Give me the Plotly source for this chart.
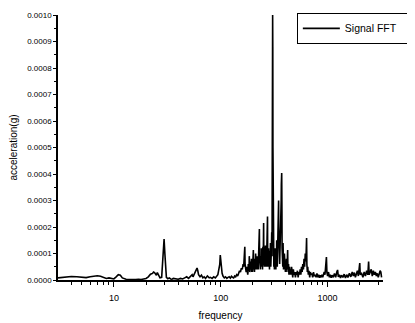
import plotly.graph_objects as go

# ---- Data (frequency in Hz, amplitude in g) ----
low_freq_hz = [
    3.0, 3.5, 4.0, 4.5, 5.0, 5.5, 6.0, 6.5, 7.0, 7.5, 8.0, 8.5, 9.0, 9.5, 10.0,
    10.5, 11.0, 11.5, 12.0, 13.0, 14.0, 15.0, 16.0, 17.0, 18.0, 19.0, 20.0, 21.0,
    22.0, 23.0, 23.5, 24.0, 25.0, 25.5, 26.0, 27.0, 28.0, 28.5, 29.0, 29.5, 30.0,
    30.5, 31.0, 32.0, 33.0, 34.0, 35.0, 36.0, 38.0, 40.0,
    42, 44, 46, 48, 50, 52, 54, 55, 57, 58,
    60, 61, 62, 64, 66, 68, 70, 72, 75, 78,
    80, 83, 86, 89, 92, 94, 96, 98, 99, 100,
    101, 103, 105, 108, 111, 114, 117, 120, 123, 126,
    129, 132, 135, 138, 141, 144, 147, 150, 153, 156,
    159, 162, 164, 166, 168, 169, 171, 173, 175, 177, 179,
]
low_accel_g = [
    0.000008, 0.000012, 0.000013, 0.000012, 0.000010, 0.000009, 0.000012,
    0.000015, 0.000016, 0.000014, 0.000009, 0.000006, 0.000008, 0.000005,
    0.000004, 0.000012, 0.000020, 0.000018, 0.000008, 0.000003, 0.000002,
    0.000003, 0.000002, 0.000003, 0.000002, 0.000004, 0.000006, 0.000012,
    0.000022, 0.000025, 0.000030, 0.000028, 0.000018, 0.000028, 0.000020,
    0.000008, 0.000010, 0.000060, 0.000135, 0.000155, 0.000100, 0.000040,
    0.000010, 0.000005, 0.000008, 0.000004, 0.000003, 0.000006, 0.000004,
    0.000003,
    0.000006, 0.000004, 0.000008, 0.000012, 0.000006, 0.000015, 0.000020, 0.000012, 0.000025, 0.000030,
    0.000045, 0.000035, 0.000020, 0.000012, 0.000018, 0.000008, 0.000012, 0.000006, 0.000015, 0.000008,
    0.000010, 0.000006, 0.000012, 0.000008, 0.000015, 0.000020, 0.000040, 0.000060, 0.000094, 0.000070,
    0.000040, 0.000025, 0.000015, 0.000008, 0.000012, 0.000006, 0.000010, 0.000012, 0.000007, 0.000014,
    0.000010, 0.000008, 0.000015, 0.000012, 0.000020, 0.000015, 0.000025, 0.000035, 0.000030, 0.000045,
    0.000040, 0.000060, 0.000050, 0.000090, 0.000125, 0.000060, 0.000040, 0.000030, 0.000050, 0.000035, 0.000020,
]

cluster_freq_hz = [
    180, 181, 182, 183, 184, 185, 186, 187, 188, 189,
    190, 191, 192, 193, 194, 195, 196, 197, 198, 199,
    200, 201, 202, 203, 204, 205, 206, 207, 208, 209,
    210, 211, 212, 213, 214, 215, 216, 217, 218, 219,
    220, 221, 222, 223, 224, 225, 226, 227, 228, 229,
    230, 231, 232, 233, 234, 235, 236, 237, 238, 239,
    240, 241, 242, 243, 244, 245, 246, 247, 248, 249,
    250, 251, 252, 253, 254, 255, 256, 257, 258, 259,
    260, 261, 262, 263, 264, 265, 266, 267, 268, 269,
    270, 271, 272, 273, 274, 275, 276, 277, 278, 279,
    280, 281, 282, 283, 284, 285, 286, 287, 288, 289,
    290, 291, 292, 293, 294, 295, 296, 297, 298, 299,
    300, 301, 302, 303, 304, 305, 306, 307, 308, 309,
    310, 311, 312, 313, 314, 315, 316, 317, 318, 319,
    320, 321, 322, 323, 324, 325, 326, 327, 328, 329,
    330, 331, 332, 333, 334, 335, 336, 337, 338, 339,
    340, 341, 342, 343, 344, 345, 346, 347, 348, 349,
    350, 351, 352, 353, 354, 355, 356, 357, 358, 359,
    360, 361, 362, 363, 364, 365, 366, 367, 368, 369,
    370, 371, 372, 373, 374, 375, 376, 377, 378, 379,
    381, 383, 385, 387, 388, 389, 391, 394, 397, 400,
    403, 406, 409, 412, 415, 418, 421, 423, 425, 428,
    431, 435, 440, 445, 450,
]
cluster_accel_g = [
    0.000030, 0.000060, 0.000050, 0.000040, 0.000035, 0.000090, 0.000070, 0.000030, 0.000040, 0.000070,
    0.000060, 0.000040, 0.000045, 0.000060, 0.000080, 0.000030, 0.000050, 0.000080, 0.000030, 0.000050,
    0.000070, 0.000090, 0.000113, 0.000040, 0.000050, 0.000070, 0.000040, 0.000030, 0.000080, 0.000060,
    0.000055, 0.000040, 0.000100, 0.000080, 0.000060, 0.000050, 0.000040, 0.000070, 0.000090, 0.000040,
    0.000050, 0.000090, 0.000070, 0.000050, 0.000040, 0.000080, 0.000110, 0.000040, 0.000060, 0.000130,
    0.000192, 0.000090, 0.000070, 0.000060, 0.000040, 0.000040, 0.000090, 0.000080, 0.000050, 0.000060,
    0.000120, 0.000090, 0.000060, 0.000050, 0.000080, 0.000110, 0.000040, 0.000060, 0.000125, 0.000090,
    0.000080, 0.000160, 0.000215, 0.000080, 0.000070, 0.000060, 0.000050, 0.000090, 0.000100, 0.000050,
    0.000060, 0.000110, 0.000130, 0.000060, 0.000070, 0.000120, 0.000090, 0.000070, 0.000050, 0.000090,
    0.000150, 0.000120, 0.000080, 0.000180, 0.000240, 0.000090, 0.000100, 0.000050, 0.000060, 0.000080,
    0.000120, 0.000060, 0.000050, 0.000110, 0.000090, 0.000060, 0.000040, 0.000080, 0.000110, 0.000050,
    0.000060, 0.000090, 0.000140, 0.000110, 0.000050, 0.000060, 0.000080, 0.000100, 0.000120, 0.000140,
    0.000180, 0.000120, 0.000090, 0.000220, 0.000400, 0.000900, 0.001000, 0.000880, 0.000500, 0.000150,
    0.000080, 0.000060, 0.000130, 0.000090, 0.000050, 0.000070, 0.000100, 0.000060, 0.000040, 0.000080,
    0.000090, 0.000050, 0.000120, 0.000090, 0.000050, 0.000060, 0.000080, 0.000100, 0.000040, 0.000060,
    0.000110, 0.000080, 0.000060, 0.000090, 0.000150, 0.000100, 0.000070, 0.000060, 0.000050, 0.000090,
    0.000120, 0.000110, 0.000080, 0.000140, 0.000180, 0.000160, 0.000220, 0.000250, 0.000300, 0.000200,
    0.000120, 0.000090, 0.000070, 0.000100, 0.000140, 0.000090, 0.000060, 0.000080, 0.000100, 0.000120,
    0.000150, 0.000100, 0.000090, 0.000140, 0.000120, 0.000150, 0.000180, 0.000220, 0.000300, 0.000360,
    0.000330, 0.000390, 0.000404, 0.000350, 0.000250, 0.000120, 0.000080, 0.000060, 0.000070, 0.000100,
    0.000050, 0.000140, 0.000070, 0.000040, 0.000113, 0.000090, 0.000050, 0.000100, 0.000040, 0.000070,
    0.000030, 0.000060, 0.000030, 0.000080, 0.000050, 0.000040, 0.000090, 0.000113, 0.000050, 0.000030,
    0.000060, 0.000020, 0.000050, 0.000020, 0.000040,
]

high_freq_hz = [
    455, 460, 466, 472, 478, 485, 492, 500, 508, 515,
    522, 530, 538, 546, 554, 562, 570, 578, 586, 594,
    602, 610, 618, 626, 632, 636, 640, 646, 652, 660,
    670, 680, 690, 700, 712, 725, 738, 750, 765, 780,
    795, 810, 825, 840, 855, 870, 885, 900, 915, 930,
    945, 960, 965, 975, 985, 1000, 1020, 1040, 1060, 1080,
    1100, 1130, 1160, 1190, 1220, 1240, 1260, 1290, 1320, 1350,
    1390, 1430, 1470, 1510, 1550, 1600, 1650, 1700, 1740, 1780,
    1820, 1860, 1900, 1940, 1980, 2000, 2020, 2080, 2140, 2200,
    2260, 2320, 2380, 2420, 2450, 2500, 2560, 2620, 2680, 2740,
    2800, 2860, 2920, 2980, 3040, 3100, 3150, 3200,
]
high_accel_g = [
    0.000020, 0.000050, 0.000030, 0.000010, 0.000040, 0.000020, 0.000030, 0.000010, 0.000030, 0.000020,
    0.000035, 0.000010, 0.000030, 0.000020, 0.000040, 0.000020, 0.000050, 0.000030, 0.000060, 0.000040,
    0.000080, 0.000050, 0.000100, 0.000070, 0.000120, 0.000158, 0.000060, 0.000030, 0.000050, 0.000020,
    0.000035, 0.000010, 0.000030, 0.000020, 0.000025, 0.000010, 0.000030, 0.000015, 0.000020, 0.000010,
    0.000025, 0.000010, 0.000020, 0.000008, 0.000018, 0.000010, 0.000020, 0.000010, 0.000025, 0.000030,
    0.000020, 0.000080, 0.000040, 0.000087, 0.000030, 0.000015, 0.000030, 0.000010, 0.000020, 0.000008,
    0.000018, 0.000010, 0.000025, 0.000010, 0.000030, 0.000038, 0.000012, 0.000020, 0.000008, 0.000018,
    0.000010, 0.000022, 0.000008, 0.000020, 0.000010, 0.000025, 0.000012, 0.000030, 0.000015, 0.000028,
    0.000010, 0.000020, 0.000035, 0.000015, 0.000040, 0.000064, 0.000020, 0.000025, 0.000010, 0.000030,
    0.000015, 0.000035, 0.000020, 0.000070, 0.000020, 0.000030, 0.000040, 0.000015, 0.000035, 0.000020,
    0.000030, 0.000015, 0.000025, 0.000010, 0.000020, 0.000035, 0.000030, 0.000010,
]

x_major_ticks = [10, 100, 1000]
x_major_labels = ["10", "100", "1000"]
x_minor_ticks = [4, 5, 6, 7, 8, 9, 20, 30, 40, 50, 60, 70, 80, 90,
                 200, 300, 400, 500, 600, 700, 800, 900, 2000, 3000]

freq_hz = low_freq_hz + cluster_freq_hz + high_freq_hz
accel_g = low_accel_g + cluster_accel_g + high_accel_g

fig = go.Figure()
fig.add_trace(go.Scatter(
    x=freq_hz, y=accel_g, mode="lines",
    name="Signal FFT\u00a0\u00a0\u00a0\u00a0\u00a0\u00a0",
    line=dict(color="black", width=1.6),
))

fig.update_layout(
    width=415, height=323,
    margin=dict(l=50, r=40, t=7, b=51, autoexpand=False),
    paper_bgcolor="white", plot_bgcolor="white",
    font=dict(family="Liberation Sans, Arial, sans-serif", color="black"),
    showlegend=True,
    legend=dict(
        xref="container", yref="container",
        x=0.696, y=0.985, xanchor="left", yanchor="top",
        bordercolor="black", borderwidth=1, bgcolor="white",
        font=dict(size=10.5, color="black"),
        itemwidth=37, tracegroupgap=0,
    ),
    xaxis=dict(
        type="log", range=[0.4771, 3.5185], automargin=False,
        tickvals=x_major_ticks, ticktext=x_major_labels,
        ticks="outside", ticklen=5, tickwidth=1, tickcolor="black",
        ticklabelstandoff=3,
        showline=True, linecolor="black", linewidth=1.5,
        showgrid=False, zeroline=False,
        tickfont=dict(size=9),
        title=dict(text="frequency", font=dict(size=10), standoff=10),
        minor=dict(tickvals=x_minor_ticks, ticks="outside", ticklen=3,
                   tickcolor="black", showgrid=False),
    ),
    yaxis=dict(
        range=[0, 0.001], dtick=0.0001, tickformat=".4f", automargin=False,
        ticks="outside", ticklen=3, tickwidth=1, tickcolor="black",
        showline=True, linecolor="black", linewidth=1.5,
        showgrid=False, zeroline=False,
        tickfont=dict(size=8),
        title=dict(text="acceleration(g)", font=dict(size=10), standoff=13),
        minor=dict(dtick=0.00005, ticks="outside", ticklen=2,
                   tickcolor="black", showgrid=False),
    ),
)

fig.write_html("out.html")
